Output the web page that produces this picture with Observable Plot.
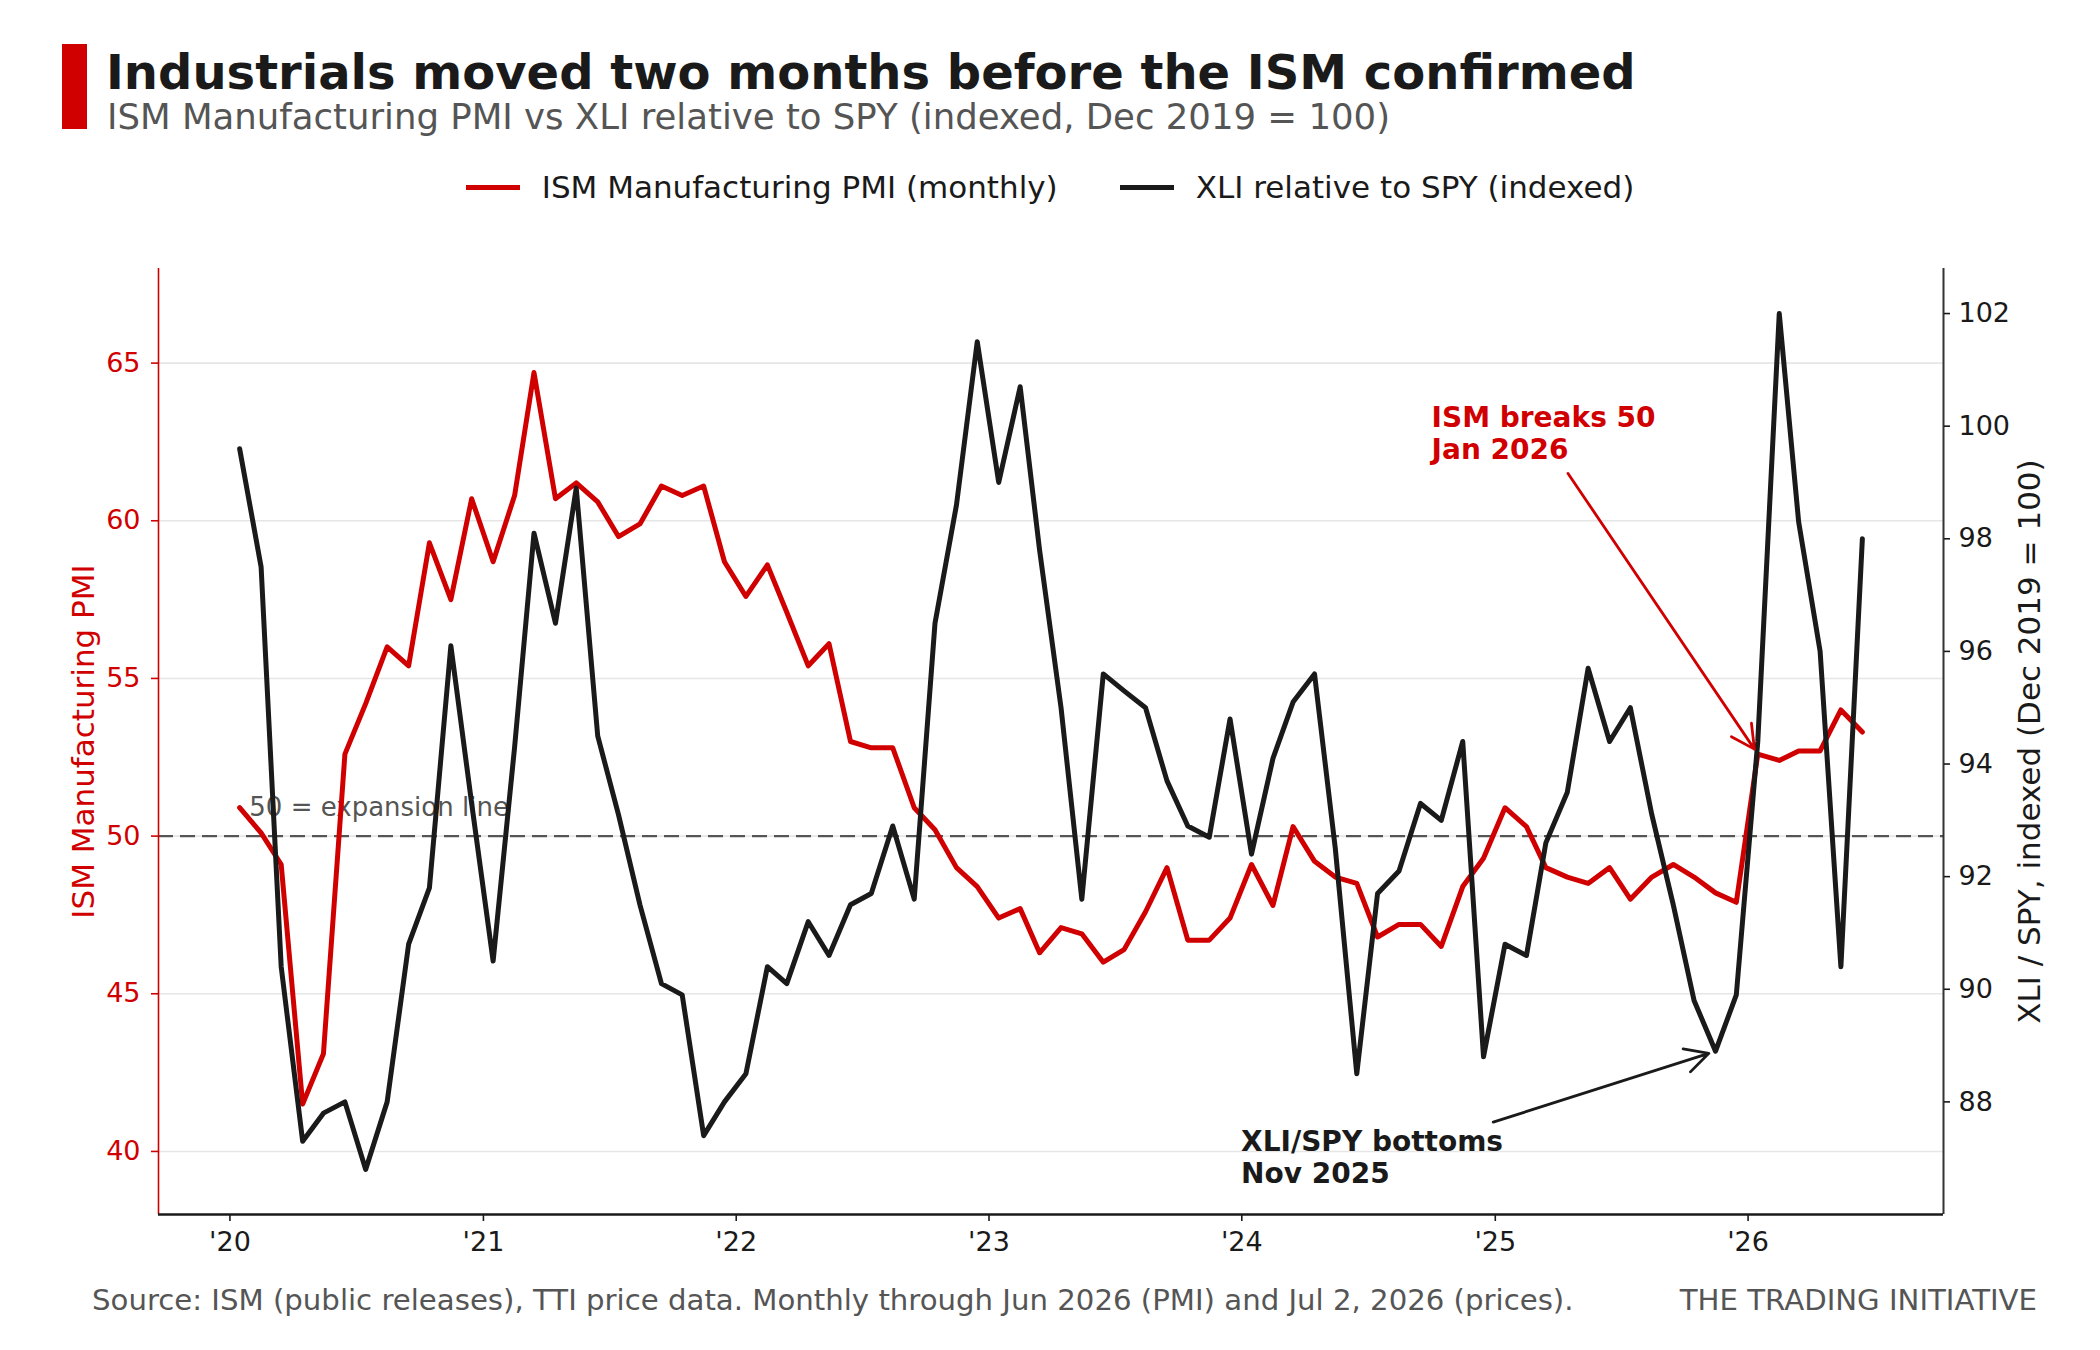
<!DOCTYPE html>
<html>
<head>
<meta charset="utf-8">
<script src="https://cdn.jsdelivr.net/npm/d3@7"></script>
<script src="https://cdn.jsdelivr.net/npm/@observablehq/plot@0.6"></script>
<style>
  html, body { margin: 0; padding: 0; background: #fff; }
  #page { position: relative; width: 2100px; height: 1350px; overflow: hidden; background: #fff; font-family: "DejaVu Sans", sans-serif; }
  .bar { position: absolute; left: 62px; top: 44px; width: 25px; height: 85px; background: #d10000; }
  .title { position: absolute; left: 106px; top: 48px; font-size: 48px; line-height: 48px; font-weight: bold; color: #1a1a1a; white-space: nowrap; }
  .subtitle { position: absolute; left: 107px; top: 99px; font-size: 35.5px; line-height: 35.5px; color: #555; white-space: nowrap; }
  .legend { position: absolute; left: 0; top: 172px; width: 2100px; display: flex; justify-content: center; align-items: center; font-size: 31px; line-height: 31px; color: #1a1a1a; white-space: nowrap; }
  .item { display: flex; align-items: center; }
  .item + .item { margin-left: 62px; }
  .sw { width: 54px; height: 5px; margin-right: 22px; }
  #chart { position: absolute; left: 0; top: 230px; }
  .caption { position: absolute; left: 92px; top: 1286px; font-size: 29.2px; line-height: 29px; color: #555; white-space: nowrap; }
  .brand { position: absolute; right: 63px; top: 1286px; font-size: 29.2px; line-height: 29px; color: #555; white-space: nowrap; }
</style>
</head>
<body>
<div id="page">
  <div class="bar"></div>
  <div class="title">Industrials moved two months before the ISM confirmed</div>
  <div class="subtitle">ISM Manufacturing PMI vs XLI relative to SPY (indexed, Dec 2019 = 100)</div>
  <div class="legend" id="legend"></div>
  <div id="chart"></div>
  <div class="caption">Source: ISM (public releases), TTI price data. Monthly through Jun 2026 (PMI) and Jul 2, 2026 (prices).</div>
  <div class="brand">THE TRADING INITIATIVE</div>
</div>
<script>
// ---------------- data ----------------
const seriesNames = ["ISM Manufacturing PMI (monthly)", "XLI relative to SPY (indexed)"];
const firstMonth = "2020-01-01";
const monthAfterLast = "2026-07-01";

const pmiValues = [
  50.9, 50.1, 49.1, 41.5, 43.1, 52.6, 54.2, 56.0, 55.4, 59.3, 57.5, 60.7,
  58.7, 60.8, 64.7, 60.7, 61.2, 60.6, 59.5, 59.9, 61.1, 60.8, 61.1, 58.7,
  57.6, 58.6, 57.1, 55.4, 56.1, 53.0, 52.8, 52.8, 50.9, 50.2, 49.0, 48.4,
  47.4, 47.7, 46.3, 47.1, 46.9, 46.0, 46.4, 47.6, 49.0, 46.7, 46.7, 47.4,
  49.1, 47.8, 50.3, 49.2, 48.7, 48.5, 46.8, 47.2, 47.2, 46.5, 48.4, 49.3,
  50.9, 50.3, 49.0, 48.7, 48.5, 49.0, 48.0, 48.7, 49.1, 48.7, 48.2, 47.9,
  52.6, 52.4, 52.7, 52.7, 54.0, 53.3
];

const xliValues = [
  99.6, 97.5, 90.4, 87.3, 87.8, 88.0, 86.8, 88.0, 90.8, 91.8, 96.1, 93.3,
  90.5, 94.3, 98.1, 96.5, 98.9, 94.5, 93.1, 91.5, 90.1, 89.9, 87.4, 88.0,
  88.5, 90.4, 90.1, 91.2, 90.6, 91.5, 91.7, 92.9, 91.6, 96.5, 98.6, 101.5,
  99.0, 100.7, 97.8, 95.0, 91.6, 95.6, 95.3, 95.0, 93.7, 92.9, 92.7, 94.8,
  92.4, 94.1, 95.1, 95.6, 92.5, 88.5, 91.7, 92.1, 93.3, 93.0, 94.4, 88.8,
  90.8, 90.6, 92.6, 93.5, 95.7, 94.4, 95.0, 93.1, 91.5, 89.8, 88.9, 89.9,
  94.4, 102.0, 98.3, 96.0, 90.4, 98.0
];

const leftTicks = [40, 45, 50, 55, 60, 65];
const rightTicks = [88, 90, 92, 94, 96, 98, 100, 102];
const yearTicks = ["2020-01-01", "2021-01-01", "2022-01-01", "2023-01-01", "2024-01-01", "2025-01-01", "2026-01-01"];
const yearLabels = ["'20", "'21", "'22", "'23", "'24", "'25", "'26"];

const expansionLevel = 50;
const expansionText = "50 = expansion line";
const ismNote = {text: "ISM breaks 50\nJan 2026", textDate: "2024-10-01", textValue: 63.7, fromDate: "2025-04-16", fromValue: 61.5, toDate: "2026-01-15", toValue: 52.6};
const xliNote = {text: "XLI/SPY bottoms\nNov 2025", textDate: "2023-12-31", textValue: 87.54, fromDate: "2024-12-29", fromValue: 87.64, toDate: "2025-11-15", toValue: 88.9};

// ---------------- scales ----------------
const RED = "#d10000", INK = "#1a1a1a";
const pmiDomain = [38, 68];
const xliDomain = [86.0, 102.8];
const toLeft = v => pmiDomain[0] + (v - xliDomain[0]) / (xliDomain[1] - xliDomain[0]) * (pmiDomain[1] - pmiDomain[0]);
const fromLeft = v => xliDomain[0] + (v - pmiDomain[0]) / (pmiDomain[1] - pmiDomain[0]) * (xliDomain[1] - xliDomain[0]);

const dates = d3.utcMonth.range(new Date(firstMonth), new Date(monthAfterLast)).map(m => d3.utcDay.offset(m, 14));
const rows = dates.map((d, i) => ({date: d, pmi: pmiValues[i], xli: xliValues[i]}));
const span = dates[dates.length - 1] - dates[0];
const xDomain = [new Date(+dates[0] - 0.05 * span), new Date(+dates[dates.length - 1] + 0.05 * span)];
const yearDates = yearTicks.map(s => new Date(s));

// ---------------- legend ----------------
const legend = document.getElementById("legend");
[[seriesNames[0], RED], [seriesNames[1], INK]].forEach(([name, c]) => {
  const it = document.createElement("div");
  it.className = "item";
  it.innerHTML = `<div class="sw" style="background:${c}"></div><span>${name}</span>`;
  legend.appendChild(it);
});

// ---------------- chart ----------------
const chart = Plot.plot({
  width: 2100,
  height: 1050,
  marginLeft: 158,
  marginRight: 157,
  marginTop: 38,
  marginBottom: 66,
  style: {fontFamily: "DejaVu Sans", fontSize: "27px", background: "transparent", overflow: "visible"},
  x: {type: "utc", domain: xDomain},
  y: {domain: pmiDomain},
  marks: [
    Plot.ruleY(leftTicks, {stroke: "#e6e6e6", strokeWidth: 1.6}),
    Plot.ruleY([expansionLevel], {stroke: "#555", strokeWidth: 2.2, strokeDasharray: "15,7"}),
    Plot.text([expansionText], {x: () => new Date("2020-01-29"), y: () => 50.65, text: d => d, textAnchor: "start", lineAnchor: "bottom", fill: "#555", fontSize: 26}),
    Plot.lineY(rows, {x: "date", y: "pmi", stroke: RED, strokeWidth: 5}),
    Plot.lineY(rows, {x: "date", y: d => toLeft(d.xli), stroke: INK, strokeWidth: 5}),
    // spines
    Plot.ruleX([xDomain[0]], {stroke: RED, strokeWidth: 1.6}),
    Plot.ruleX([xDomain[1]], {stroke: "#333", strokeWidth: 2}),
    Plot.ruleY([pmiDomain[0]], {stroke: INK, strokeWidth: 2.6}),
    // axes
    Plot.axisY(leftTicks, {anchor: "left", color: RED, tickSize: 7, tickPadding: 11, fontSize: 27, strokeWidth: 1.6, label: null}),
    Plot.axisY(rightTicks.map(toLeft), {anchor: "right", color: INK, tickSize: 6, tickPadding: 9, fontSize: 27, strokeWidth: 1.6, label: null, tickFormat: d => String(Math.round(fromLeft(d)))}),
    Plot.axisX(yearDates, {anchor: "bottom", color: INK, tickSize: 7, tickPadding: 10, fontSize: 27, strokeWidth: 1.6, label: null, tickFormat: d => yearLabels[d.getUTCFullYear() - 2020]}),
    // axis titles
    Plot.text(["ISM Manufacturing PMI"], {frameAnchor: "left", rotate: -90, dx: -74.5, textAnchor: "middle", lineAnchor: "middle", fill: RED, fontSize: 31, text: d => d}),
    Plot.text(["XLI / SPY, indexed (Dec 2019 = 100)"], {frameAnchor: "right", rotate: -90, dx: 87, textAnchor: "middle", lineAnchor: "middle", fill: INK, fontSize: 31, text: d => d}),
    // annotations
    Plot.arrow([ismNote], {x1: d => new Date(d.fromDate), y1: "fromValue", x2: d => new Date(d.toDate), y2: "toValue", stroke: RED, strokeWidth: 2.8, headLength: 14, headAngle: 55, insetEnd: 6}),
    Plot.text([ismNote], {x: d => new Date(d.textDate), y: "textValue", text: "text", textAnchor: "start", lineAnchor: "top", lineHeight: 1.15, fill: RED, fontWeight: "bold", fontSize: 28}),
    Plot.arrow([xliNote], {x1: d => new Date(d.fromDate), y1: d => toLeft(d.fromValue), x2: d => new Date(d.toDate), y2: d => toLeft(d.toValue), stroke: INK, strokeWidth: 2.8, headLength: 14, headAngle: 55, insetEnd: 7}),
    Plot.text([xliNote], {x: d => new Date(d.textDate), y: d => toLeft(d.textValue), text: "text", textAnchor: "start", lineAnchor: "top", lineHeight: 1.15, fill: INK, fontWeight: "bold", fontSize: 28})
  ]
});
document.getElementById("chart").appendChild(chart);
</script>
</body>
</html>
